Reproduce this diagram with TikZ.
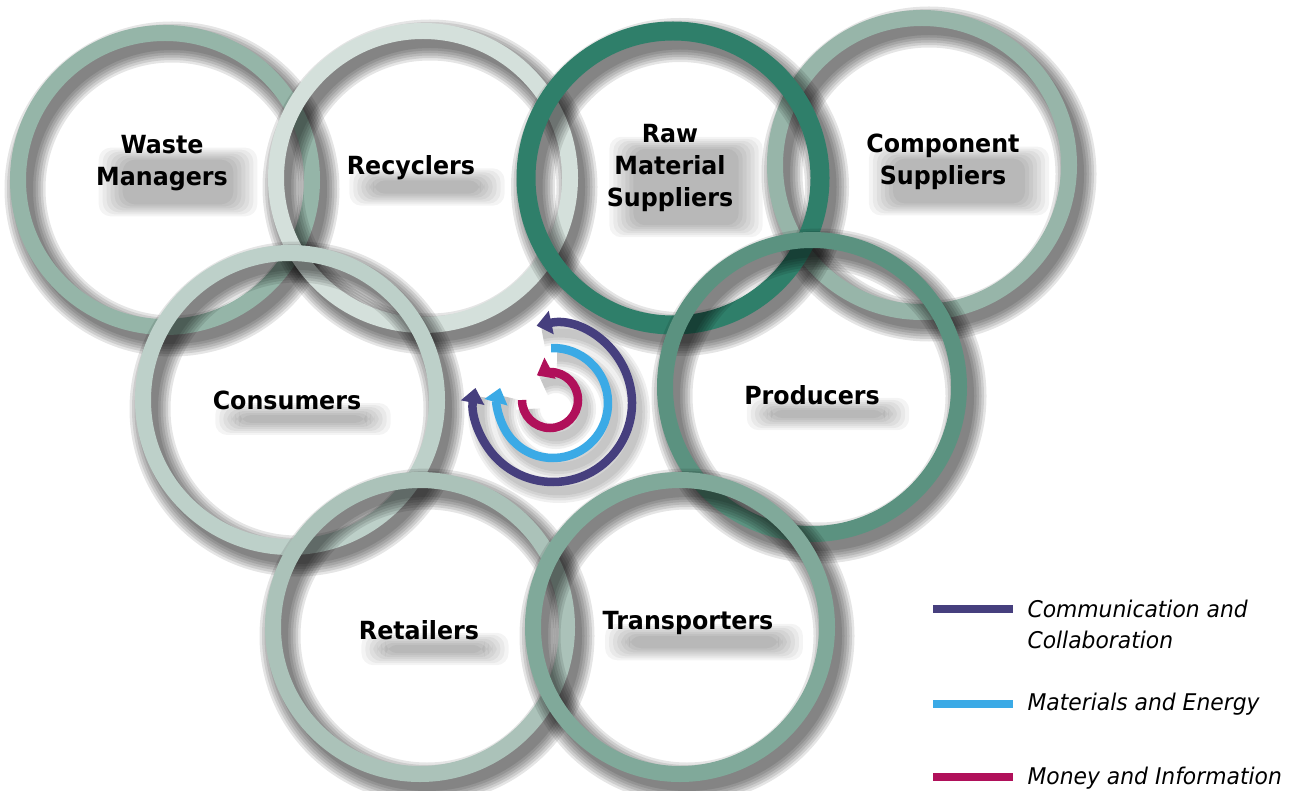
\documentclass[tikz,border=0pt]{standalone}
\usepackage{fontspec}
\setmainfont{DejaVu Sans}[FakeStretch=0.95]
\usetikzlibrary{arrows.meta}
\usetikzlibrary{calc}

\definecolor{wastecol}{HTML}{95B5A8}
\definecolor{recyccol}{HTML}{D4E0DB}
\definecolor{rawcol}{HTML}{2F7F6A}
\definecolor{compcol}{HTML}{97B5A9}
\definecolor{conscol}{HTML}{BDD0C9}
\definecolor{prodcol}{HTML}{5B9280}
\definecolor{retailcol}{HTML}{ABC2B9}
\definecolor{transcol}{HTML}{80A99A}
\definecolor{commcol}{HTML}{463F7E}
\definecolor{matcol}{HTML}{3BAAE6}
\definecolor{moneycol}{HTML}{B0105A}

\pgfdeclarelayer{front}
\pgfsetlayers{main,front}

\tikzset{
  ring/.style={line width=16pt},
  ringshade/.style={black, opacity=0.1},
  textshade/.style={black, opacity=0.045, rounded corners=12pt},
  actor/.style={font=\bfseries\fontsize{25}{32}\selectfont, align=center, text=black},
  flow/.style={line width=8.5pt},
  keytext/.style={font=\itshape\fontsize{23}{31}\selectfont, align=left, anchor=west},
}

\begin{document}
\begin{tikzpicture}[x=1pt, y=-1pt]
    \useasboundingbox (0,0) rectangle (1308,791);
    \fill[white] (0,0) rectangle (1308,791);
    % rings with their shadows
    \foreach \cx/\cy/\col/\lw in {165/180/wastecol/16, 423/178/recyccol/16, 922/165/compcol/16,
        673/178/rawcol/19, 812/387/prodcol/16, 290/400/conscol/16, 420/627/retailcol/16, 680/627/transcol/16}
    {
	\foreach \k in {0,...,5}
	\draw[ringshade, line width={\lw+5*\k}] (\cx+7,\cy+9) circle (147);
	\draw[ring, line width=\lw, \col] (\cx,\cy) circle (147);
    }
    % shadows of the flows
    \foreach \k in {0,...,3} {
	\draw[ringshade, opacity=0.06, line width={9+5*\k}] (559,412) ++(-102:79) arc[start angle=-102, end angle=191, radius=79];
	\draw[ringshade, opacity=0.06, line width={9+5*\k}] (559,412) ++(-92:55) arc[start angle=-92, end angle=196, radius=55];
	\draw[ringshade, opacity=0.06, line width={9+5*\k}] (556,409) ++(180:28) arc[start angle=180, end angle=-118, radius=28];
    }
    % flows
    \draw[flow, commcol, {Triangle[width=23pt,length=15pt]}-{Triangle[width=23pt,length=15pt]}]
	(553,403) ++(-102:79) arc[start angle=-102, end angle=191, radius=79];
    \draw[flow, matcol, -{Triangle[width=23pt,length=15pt]}]
	(553,403) ++(-92:55) arc[start angle=-92, end angle=196, radius=55];
    \draw[flow, moneycol, -{Triangle[width=23pt,length=15pt]}]
	(550,400) ++(180:28) arc[start angle=180, end angle=-118, radius=28];
    % actors, each with a soft shadow below
    \foreach \nm/\px/\py/\txt in {waste/162/163/{Waste\\Managers}, recyc/411/168/{Recyclers},
        raw/670/168/{Raw\\Material\\Suppliers}, comp/943/162/{Component\\Suppliers},
        cons/287/400/{Consumers}, prod/812/395/{Producers},
        retail/419/630/{Retailers}, trans/688/623/{Transporters}}
    {
	\begin{pgfonlayer}{front}
	\node[actor] (\nm) at (\px,\py) {\txt};
	\end{pgfonlayer}
	\foreach \k in {0,...,6}
	\fill[textshade] ($(\nm.north west)+(6+4*\k,16+2*\k)$) rectangle ($(\nm.south east)+(26-4*\k,22-2*\k)$);
    }
    % legend
    \coordinate (commA) at (933,609);
    \coordinate (commB) at (1013,609);
    \coordinate (matA) at (933,704);
    \coordinate (matB) at (1013,704);
    \coordinate (moneyA) at (933,777);
    \coordinate (moneyB) at (1013,777);
    \draw[flow, commcol] (commA) -- (commB);
    \draw[flow, matcol] (matA) -- (matB);
    \draw[flow, moneycol] (moneyA) -- (moneyB);
    \node[keytext] (commkey) at (1024,624) {Communication and\\Collaboration};
    \node[keytext] (matkey) at (1024,704) {Materials and Energy};
    \node[keytext] (moneykey) at (1024,778) {Money and Information};
\end{tikzpicture}
\end{document}
